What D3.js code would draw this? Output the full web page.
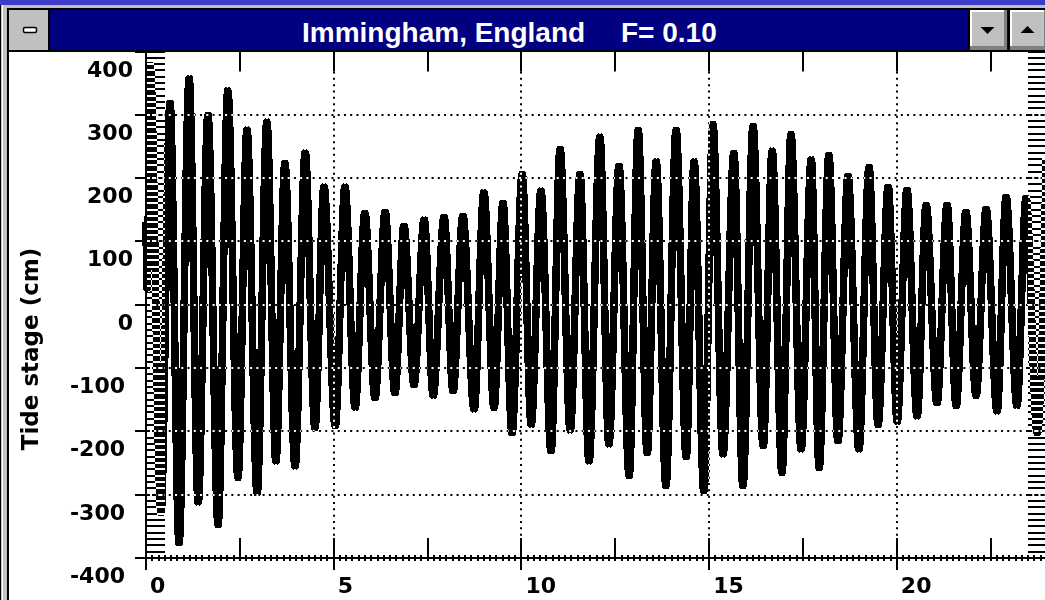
<!DOCTYPE html>
<html>
<head>
<meta charset="utf-8">
<script src="https://cdn.jsdelivr.net/npm/d3@7"></script>
<style>
  html, body { margin: 0; padding: 0; background: #fff; overflow: hidden; }
  svg { display: block; }
  .xor { mix-blend-mode: difference; }
</style>
</head>
<body>
<svg id="chart" width="1045" height="600"></svg>
<script>
// Tide stage record: successive turning points (time in days, stage in cm)
const tideTime = [
  0.00, 0.03, 0.11, 0.40, 0.64, 0.88, 1.15, 1.39, 1.65, 1.92,
  2.18, 2.45, 2.69, 2.96, 3.22, 3.46, 3.70, 3.97, 4.24, 4.50,
  4.74, 5.04, 5.30, 5.57, 5.83, 6.10, 6.37, 6.63, 6.87, 7.14,
  7.41, 7.65, 7.94, 8.18, 8.44, 8.74, 9.00, 9.27, 9.51, 9.75,
  10.02, 10.26, 10.52, 10.79, 11.03, 11.30, 11.56, 11.80, 12.09, 12.33,
  12.60, 12.87, 13.11, 13.35, 13.59, 13.85, 14.12, 14.39, 14.60, 14.86,
  15.10, 15.37, 15.66, 15.90, 16.17, 16.44, 16.68, 16.94, 17.18, 17.45,
  17.72, 17.93, 18.19, 18.43, 18.70, 18.99, 19.26, 19.50, 19.77, 20.01,
  20.27, 20.54, 20.78, 21.07, 21.34, 21.58, 21.84, 22.11, 22.38, 22.67,
  22.91, 23.20, 23.44, 23.74, 23.98
];
const tideStage = [
  131, 24, 380, -330, 320, -378, 359, -314, 301, -349,
  340, -275, 278, -299, 291, -249, 225, -257, 242, -196,
  188, -193, 188, -164, 146, -149, 148, -141, 126, -128,
  136, -145, 140, -138, 142, -167, 179, -164, 162, -204,
  208, -191, 182, -233, 247, -200, 208, -249, 267, -222,
  221, -272, 278, -236, 228, -288, 278, -242, 228, -296,
  287, -238, 241, -288, 284, -225, 245, -267, 271, -230,
  231, -259, 238, -217, 205, -230, 219, -191, 188, -186,
  183, -178, 159, -157, 159, -161, 148, -145, 153, -170,
  172, -161, 170, -204, 231
];

const yTickValues = [-400, -300, -200, -100, 0, 100, 200, 300, 400];
const xLabelValues = [0, 5, 10, 15, 20];
const xMajorValues = [0, 2.5, 5, 7.5, 10, 12.5, 15, 17.5, 20, 22.5];
const titlePlace = "Immingham, England";
const titleFactor = "F= 0.10";
const yTitle = "Tide stage (cm)";

const svg = d3.select("#chart");
const W = 1045, H = 600;

const x = d3.scaleLinear().domain([0, 24]).range([146, 1047]);
const y = d3.scaleLinear().domain([-400, 400]).range([558, 51.5]);

// page background
svg.append("rect").attr("width", W).attr("height", H).attr("fill", "#fff");

// ---------- plot ----------
const plot = svg.append("g");

plot.append("clipPath").attr("id", "plotClip")
  .append("rect").attr("x", x(0) - 4).attr("y", y(400)).attr("width", x(24) - x(0) + 8).attr("height", y(-400) - y(400));

const points = tideTime.map((t, i) => [t, tideStage[i]]);
const line = d3.line().x(d => x(d[0])).y(d => y(d[1])).curve(d3.curveMonotoneX);
const pathD = line(points);

// broad flat pen: the trace is laid down at two small sideways offsets
const pen = plot.append("g").attr("clip-path", "url(#plotClip)");
[-1.5, 1.5].forEach(dx => {
  pen.append("path")
    .attr("d", pathD)
    .attr("transform", `translate(${dx},0)`)
    .attr("fill", "none")
    .attr("stroke", "#000")
    .attr("stroke-width", 4.5)
    .attr("shape-rendering", "crispEdges");
});

// dotted grid, drawn inverting what lies beneath
const dotX = x(1 / 6) - x(0);
const dotY = y(0) - y(10);
const grid = plot.append("g");
[-300, -200, -100, 0, 100, 200, 300].forEach(v => {
  grid.append("line").attr("class", "xor")
    .attr("x1", x(0) + 4).attr("x2", x(24))
    .attr("y1", Math.round(y(v))).attr("y2", Math.round(y(v)))
    .attr("stroke", "#fff").attr("stroke-width", 2)
    .attr("stroke-dasharray", `2 ${dotX - 2}`);
});
[5, 10, 15, 20].forEach(v => {
  grid.append("line").attr("class", "xor")
    .attr("x1", Math.round(x(v))).attr("x2", Math.round(x(v)))
    .attr("y1", y(400) + 20).attr("y2", y(-400) - 20)
    .attr("stroke", "#fff").attr("stroke-width", 2)
    .attr("stroke-dasharray", `2 ${dotY - 2}`);
});

// minor stage ticks every 10 cm, inward on both sides
const minorY = d3.range(-400, 401, 10);
plot.append("g").selectAll("line.ml").data(minorY).join("line")
  .attr("class", "xor")
  .attr("x1", x(0)).attr("x2", x(0) + 19)
  .attr("y1", d => Math.round(y(d))).attr("y2", d => Math.round(y(d)))
  .attr("stroke", "#fff").attr("stroke-width", 2);
plot.append("g").selectAll("line.mr").data(minorY).join("line")
  .attr("class", "xor")
  .attr("x1", x(24) - 19).attr("x2", x(24))
  .attr("y1", d => Math.round(y(d))).attr("y2", d => Math.round(y(d)))
  .attr("stroke", "#fff").attr("stroke-width", 2);

// minor time ticks every 4 hours on the bottom axis
const minorX = d3.range(0, 24.01, 1 / 6);
plot.append("g").selectAll("line").data(minorX).join("line")
  .attr("x1", d => Math.round(x(d))).attr("x2", d => Math.round(x(d)))
  .attr("y1", y(-400) - 3).attr("y2", y(-400) + 3)
  .attr("stroke", "#000").attr("stroke-width", 2);

// axes
const axes = svg.append("g").attr("stroke", "#000").attr("stroke-width", 2);
axes.append("line").attr("x1", x(0)).attr("x2", x(0)).attr("y1", y(400)).attr("y2", y(-400) + 1);
axes.append("line").attr("x1", x(0) - 1).attr("x2", x(24)).attr("y1", y(-400)).attr("y2", y(-400));
axes.append("line").attr("x1", x(24)).attr("x2", x(24)).attr("y1", y(400)).attr("y2", y(-400));

yTickValues.forEach(v => {
  axes.append("line").attr("x1", x(0) - 11).attr("x2", x(0))
    .attr("y1", Math.round(y(v))).attr("y2", Math.round(y(v)));
});
xMajorValues.forEach(v => {
  const px = Math.round(x(v));
  const longTick = v % 5 === 0;
  axes.append("line").attr("x1", px).attr("x2", px)
    .attr("y1", y(-400) - 20).attr("y2", y(-400) + (longTick ? 12 : 0));
  axes.append("line").attr("x1", px).attr("x2", px)
    .attr("y1", y(400)).attr("y2", y(400) + 20);
});

// tick labels
const labelFont = "'DejaVu Sans', sans-serif";
svg.append("g").selectAll("text").data(yTickValues).join("text")
  .attr("x", d => d < 0 ? 125 : 133)
  .attr("y", d => y(d) + 25)
  .attr("text-anchor", "end")
  .attr("font-family", labelFont).attr("font-weight", "bold").attr("font-size", 22)
  .attr("fill", "#000")
  .text(d => d3.format("d")(d).replace("\u2212", "-"));

svg.append("g").selectAll("text").data(xLabelValues).join("text")
  .attr("x", d => x(d) + 4)
  .attr("y", 593)
  .attr("font-family", labelFont).attr("font-weight", "bold").attr("font-size", 22)
  .attr("fill", "#000")
  .text(d => d);

svg.append("text")
  .attr("transform", "translate(38,349) rotate(-90)")
  .attr("text-anchor", "middle")
  .attr("font-family", labelFont).attr("font-weight", "bold").attr("font-size", 23)
  .attr("fill", "#000")
  .text(yTitle);

// ---------- window frame & caption bar ----------
const frame = svg.append("g");
frame.append("rect").attr("x", 0).attr("y", 0).attr("width", W).attr("height", 5).attr("fill", "#3c3cc8");
frame.append("rect").attr("x", 0).attr("y", 5).attr("width", W).attr("height", 3).attr("fill", "#c0c0c0");
frame.append("rect").attr("x", 0).attr("y", 8).attr("width", W).attr("height", 2).attr("fill", "#000");
// left border
frame.append("rect").attr("x", 0).attr("y", 5).attr("width", 9).attr("height", H - 5).attr("fill", "#c0c0c0");
frame.append("rect").attr("x", 0).attr("y", 5).attr("width", 1).attr("height", H - 5).attr("fill", "#000");
frame.append("rect").attr("x", 2).attr("y", 5).attr("width", 1).attr("height", H - 5).attr("fill", "#fff");
frame.append("rect").attr("x", 7).attr("y", 8).attr("width", 2).attr("height", H - 8).attr("fill", "#000");
// caption
frame.append("rect").attr("x", 9).attr("y", 10).attr("width", W - 9).attr("height", 40).attr("fill", "#000080");
frame.append("rect").attr("x", 9).attr("y", 50).attr("width", W - 9).attr("height", 2).attr("fill", "#000");
// control-menu box
frame.append("rect").attr("x", 9).attr("y", 10).attr("width", 39).attr("height", 40).attr("fill", "#c0c0c0");
frame.append("rect").attr("x", 48).attr("y", 10).attr("width", 2).attr("height", 40).attr("fill", "#000");
frame.append("rect").attr("x", 23.5).attr("y", 27.5).attr("width", 13).attr("height", 5).attr("rx", 1.5)
  .attr("fill", "#fff").attr("stroke", "#000").attr("stroke-width", 1.5);
// minimize / maximize buttons
function button(x0, w, up) {
  frame.append("rect").attr("x", x0 - 2).attr("y", 10).attr("width", 2).attr("height", 40).attr("fill", "#000");
  frame.append("rect").attr("x", x0).attr("y", 10).attr("width", w).attr("height", 40).attr("fill", "#c0c0c0");
  frame.append("rect").attr("x", x0).attr("y", 10).attr("width", w).attr("height", 2).attr("fill", "#fff");
  frame.append("rect").attr("x", x0).attr("y", 10).attr("width", 2).attr("height", 40).attr("fill", "#fff");
  frame.append("rect").attr("x", x0).attr("y", 46).attr("width", w).attr("height", 4).attr("fill", "#808080");
  frame.append("rect").attr("x", x0 + w - 3).attr("y", 10).attr("width", 3).attr("height", 40).attr("fill", "#808080");
  const cx = x0 + w / 2 - 1, cy = 30;
  const tri = up ? `M${cx - 7},${cy + 3} L${cx + 7},${cy + 3} L${cx},${cy - 4} Z`
                 : `M${cx - 7},${cy - 3} L${cx + 7},${cy - 3} L${cx},${cy + 4} Z`;
  frame.append("path").attr("d", tri).attr("fill", "#000");
}
button(970, 37, false);
button(1010, 37, true);

// caption text
const cap = frame.append("g")
  .attr("font-family", "'Liberation Sans', Arial, sans-serif")
  .attr("font-weight", "bold").attr("font-size", 28).attr("fill", "#fff");
cap.append("text").attr("x", 302).attr("y", 42).text(titlePlace);
cap.append("text").attr("x", 621).attr("y", 42).text(titleFactor);
</script>
</body>
</html>
